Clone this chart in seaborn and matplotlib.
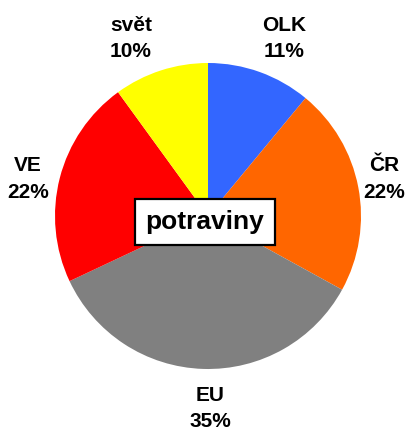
import numpy as np
import matplotlib
matplotlib.use("Agg")
import matplotlib.pyplot as plt
import seaborn as sns

categories = ["OLK", "ČR", "EU", "VE", "svět"]
values = [11, 22, 35, 22, 10]
colors = ["#3366FF", "#FF6600", "#808080", "#FF0000", "#FFFF00"]
title = "potraviny"

sns.set_theme(style="white")
plt.rcParams["font.family"] = ["Liberation Sans", "DejaVu Sans"]

W, H = 411, 430
fig = plt.figure(figsize=(W / 100, H / 100), dpi=100)
ax = fig.add_axes([0, 0, 1, 1])

cx, cy, r = 208, H - 216, 153
wedges, _ = ax.pie(values, colors=colors, startangle=90, counterclock=False,
                   center=(cx, cy), radius=r, frame=True,
                   wedgeprops=dict(linewidth=0))
ax.set_xlim(0, W)
ax.set_ylim(0, H)
ax.axis("off")

# label placement: radial distance factor and angular shift (deg)
dist = [1.277, 1.179, 1.242, 1.205, 1.28]
dshift = [-3.1, 1.85, 2.4, 2.0, 5.2]
for w, cat, v, d, s in zip(wedges, categories, values, dist, dshift):
    th = np.deg2rad((w.theta1 + w.theta2) / 2 + s)
    x = cx + r * d * np.cos(th)
    y = cy + r * d * np.sin(th) - 2.5
    ax.text(x, y, f"{cat}\n{v}%", ha="center", va="center", fontsize=15,
            fontweight="bold", color="black", linespacing=1.5)

ax.text(cx - 3, H - 222, title, ha="center", va="center", fontsize=19,
        fontweight="bold", color="black",
        bbox=dict(boxstyle="square,pad=0.4", facecolor="white",
                  edgecolor="black", linewidth=1.6))

fig.savefig("out.png", dpi=100)
